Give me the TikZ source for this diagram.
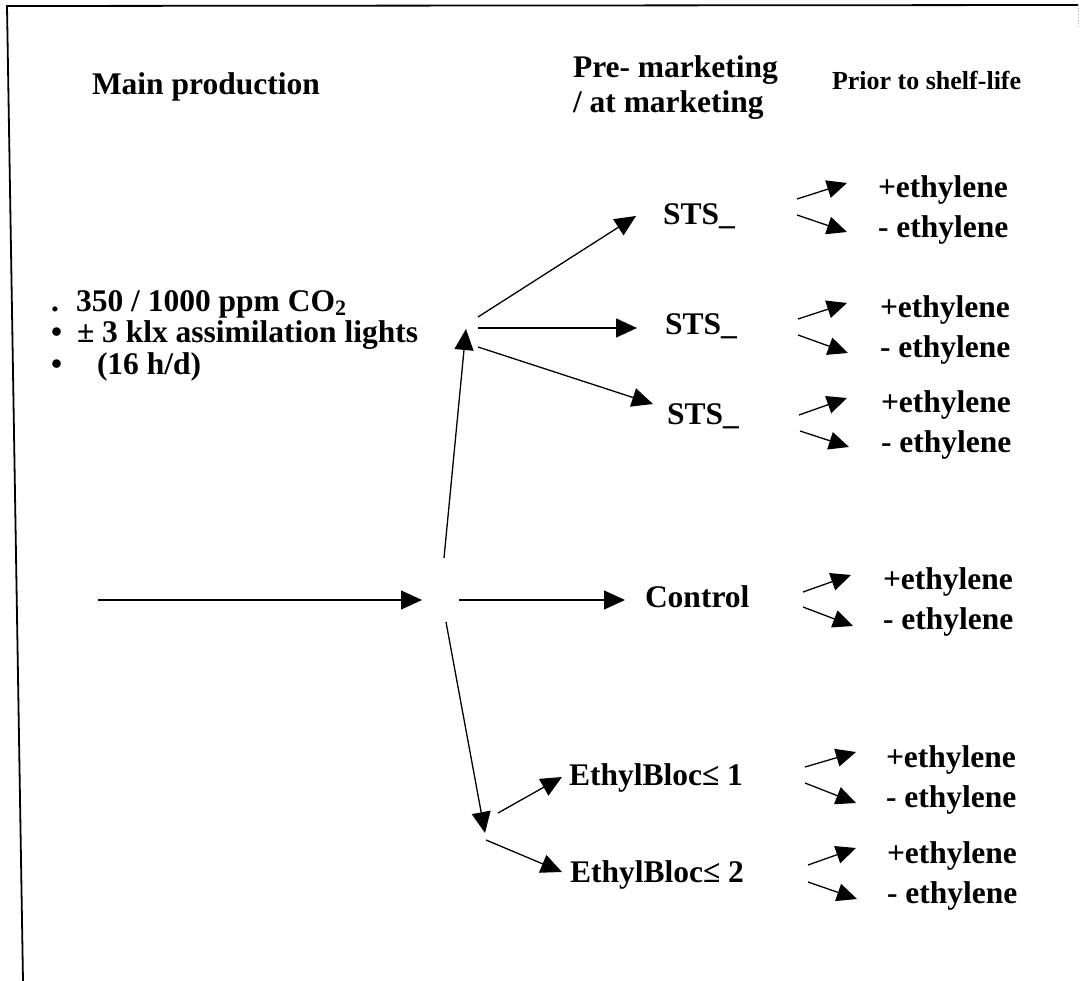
\documentclass[tikz,border=0pt]{standalone}
\usepackage{fontspec}
\setmainfont{Liberation Serif}
\usetikzlibrary{arrows.meta}
\tikzset{
  lab/.style={anchor=base west, inner sep=0pt, outer sep=0pt, font=\bfseries\fontsize{31.5}{36}\selectfont},
  labsmall/.style={anchor=base west, inner sep=0pt, outer sep=0pt, font=\bfseries\fontsize{26}{30}\selectfont},
  arr/.style={-{Triangle[length=21pt,width=19pt]}, line width=1.3pt},
  sarr/.style={-{Triangle[length=20pt,width=18pt]}, line width=1.3pt},
  frame/.style={line width=1.8pt}
}
\begin{document}
\begin{tikzpicture}[x=1pt,y=-1pt]
\useasboundingbox (0,0) rectangle (1080,981);
% frame
\coordinate (fTL) at (7,6);
\coordinate (fTR) at (1078,5);
\coordinate (fBL) at (23,981);
\draw[frame] (fBL) -- (fTL) -- (fTR);
\coordinate (fR1) at (1078,8);
\coordinate (fR2) at (1078,28);
\draw[gray!60, line width=1pt, dotted] (fR1) -- (fR2);

% headings
\node[lab] (main) at (92,95) {Main production};
\node[lab] (pm1) at (573,78) {Pre- marketing};
\node[lab] (pm2) at (573,113) {/ at marketing};
\node[labsmall] (prior) at (832,90) {Prior to shelf-life};

% conditions
\node[lab] (b1) at (51,312) {.};
\node[lab] (c1) at (76,312) {350 / 1000 ppm CO{\fontsize{22}{22}\selectfont\raisebox{-4pt}{2}}};
\node[lab] (b2) at (51,343) {•};
\node[lab] (c2) at (77,343) {± 3 klx assimilation lights};
\node[lab] (b3) at (51,375) {•};
\node[lab] (c3) at (97,375) {(16 h/d)};

% treatments
\node[lab] (sts1) at (663,225) {STS\_};
\node[lab] (sts2) at (665,335) {STS\_};
\node[lab] (sts3) at (667,425) {STS\_};
\node[lab] (ctrl) at (645,608) {Control};
\node[lab] (eb1) at (569,785) {EthylBloc≤ 1};
\node[lab] (eb2) at (570,882) {EthylBloc≤ 2};

% ethylene labels
\node[lab] (p1) at (878,198) {+ethylene};
\node[lab] (m1) at (878,238) {- ethylene};
\node[lab] (p2) at (880,318) {+ethylene};
\node[lab] (m2) at (880,358) {- ethylene};
\node[lab] (p3) at (881,413) {+ethylene};
\node[lab] (m3) at (881,453) {- ethylene};
\node[lab] (p4) at (883,590) {+ethylene};
\node[lab] (m4) at (883,630) {- ethylene};
\node[lab] (p5) at (886,767) {+ethylene};
\node[lab] (m5) at (886,807) {- ethylene};
\node[lab] (p6) at (887,863) {+ethylene};
\node[lab] (m6) at (887,903) {- ethylene};

% main flow coordinates
\coordinate (start) at (98,600);
\coordinate (hubIn) at (422,600);
\coordinate (hubOut) at (459,600);
\coordinate (ctrlIn) at (625,600);
\coordinate (upFrom) at (444,558);
\coordinate (upTo) at (466,329);
\coordinate (dnFrom) at (446,622);
\coordinate (dnTo) at (485,833);
\coordinate (f1) at (478,317);
\coordinate (f2) at (478,328);
\coordinate (f3) at (478,347);
\coordinate (sts1In) at (636,216);
\coordinate (sts2In) at (637,328);
\coordinate (sts3In) at (653,404);
\coordinate (e1From) at (498,813);
\coordinate (e1In) at (562,777);
\coordinate (e2From) at (486,840);
\coordinate (e2In) at (562,872);

\draw[arr] (start) -- (hubIn);
\draw[arr] (hubOut) -- (ctrlIn);
\draw[arr] (upFrom) -- (upTo);
\draw[arr] (dnFrom) -- (dnTo);
\draw[arr] (f1) -- (sts1In);
\draw[arr] (f2) -- (sts2In);
\draw[arr] (f3) -- (sts3In);
\draw[arr] (e1From) -- (e1In);
\draw[arr] (e2From) -- (e2In);

% small arrows
\foreach \n/\ax/\ay/\bx/\by/\cx/\cy/\dx/\dy in {
  1/797/199/847/183/797/215/847/232,
  2/798/319/847/303/798/335/848/353,
  3/799/415/847/398/800/431/849/447,
  4/803/592/851/575/803/607/853/626,
  5/805/767/856/752/805/783/856/803,
  6/808/865/856/848/808/882/857/899}{
  \coordinate (u\n a) at (\ax,\ay);
  \coordinate (u\n b) at (\bx,\by);
  \coordinate (d\n a) at (\cx,\cy);
  \coordinate (d\n b) at (\dx,\dy);
  \draw[sarr] (u\n a) -- (u\n b);
  \draw[sarr] (d\n a) -- (d\n b);
}
\end{tikzpicture}
\end{document}
